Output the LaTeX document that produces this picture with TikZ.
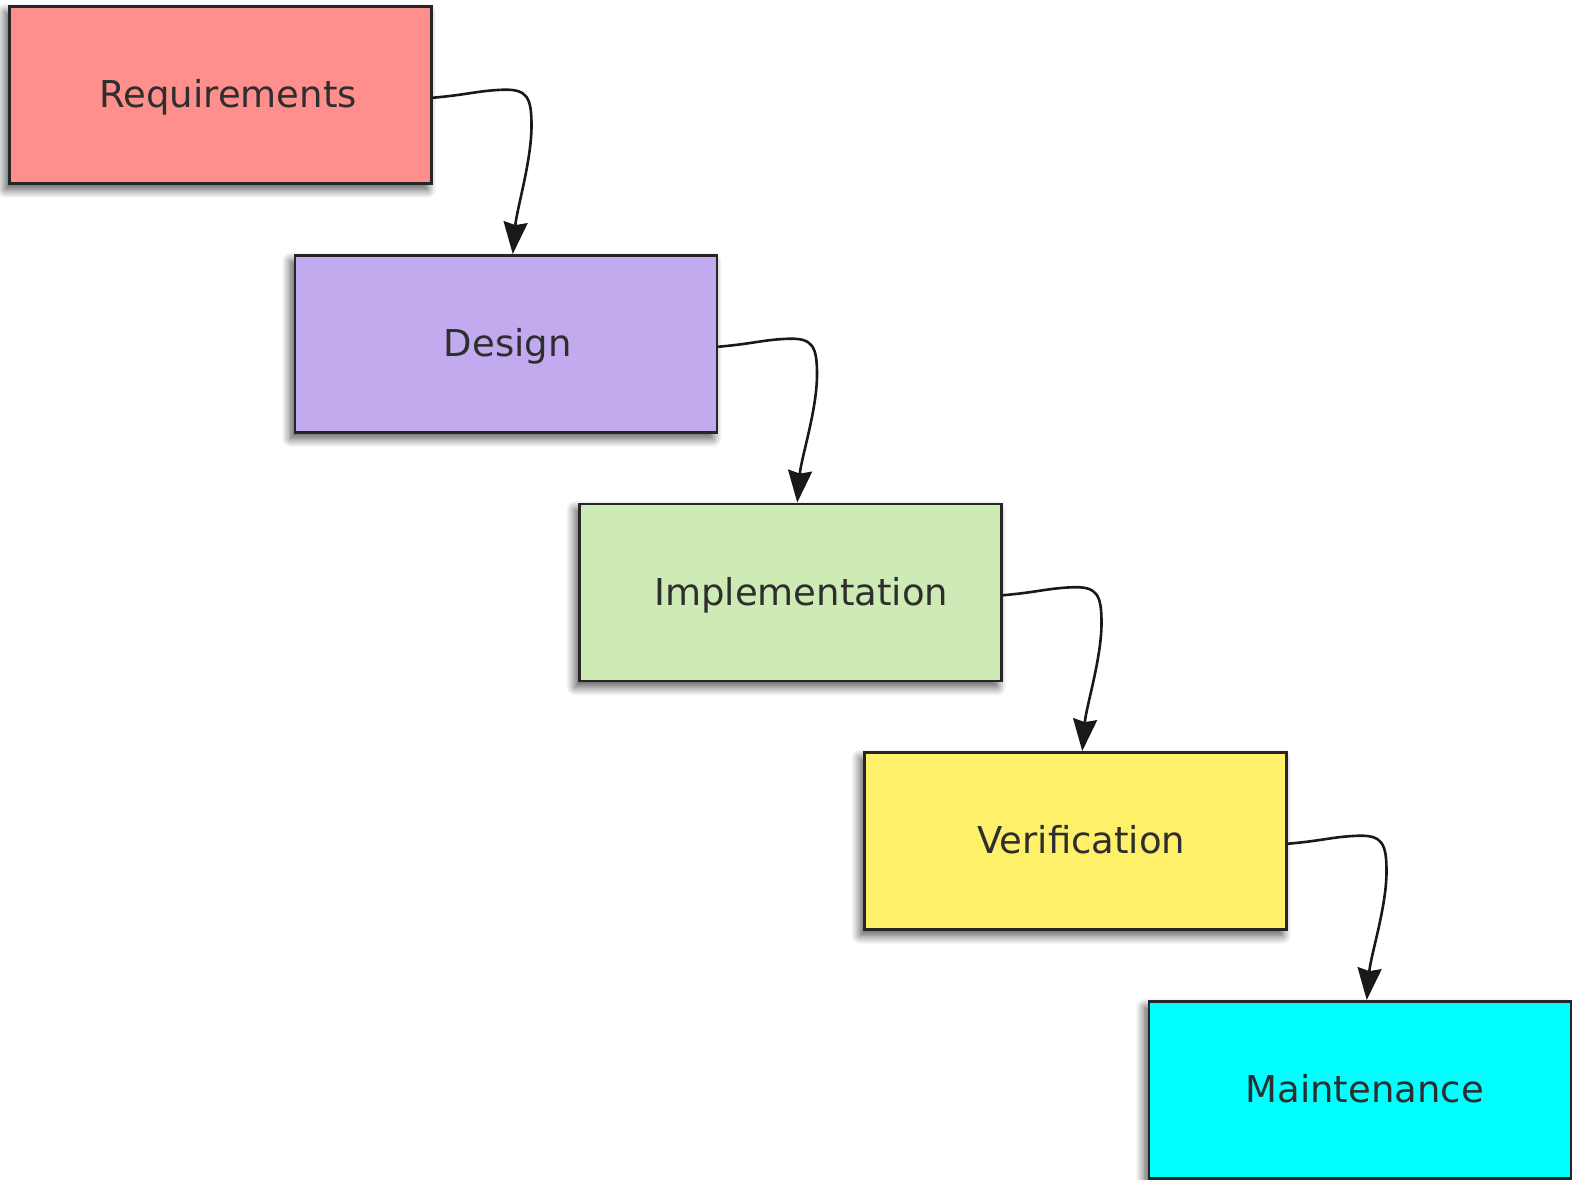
\documentclass[tikz,border=0pt]{standalone}
\usepackage{fontspec}
\setmainfont{DejaVu Sans}
\usetikzlibrary{arrows.meta,shadows.blur,calc}
\definecolor{creq}{HTML}{FF8F8C}
\definecolor{cdes}{HTML}{C1AAEE}
\definecolor{cimp}{HTML}{CFEBB5}
\definecolor{cver}{HTML}{FFF06A}
\definecolor{cmai}{HTML}{00FFFF}
\definecolor{cborder}{HTML}{262626}
\definecolor{ctext}{HTML}{2E2E2E}
\tikzset{
  phase/.style={draw=cborder, line width=2.5pt, minimum width=422pt, minimum height=177pt,
    inner sep=0pt, anchor=north west,
    blur shadow={shadow xshift=-4pt, shadow yshift=-6pt, shadow blur steps=14, shadow blur radius=9pt, shadow opacity=70}},
  lbl/.style={font=\fontsize{37}{40}\selectfont, text=ctext, anchor=base, inner sep=0pt},
  flow/.style={line width=2.6pt, draw=black!90, -{Stealth[length=32pt,width=24pt,inset=3pt]}}
}
\begin{document}
\begin{tikzpicture}[x=1pt,y=-1pt]
\useasboundingbox (0,0) rectangle (1572,1179);
\node[phase, fill=creq] (req) at (8,5) {};
\node[phase, fill=cdes] (des) at (293.5,254) {};
\node[phase, fill=cimp] (imp) at (578,502.5) {};
\node[phase, fill=cver] (ver) at (863,751) {};
\node[phase, fill=cmai] (mai) at (1147.5,1000) {};

\node[lbl] (reqt) at ($(req.center)+(8,13)$) {Requirements};
\node[lbl] (dest) at ($(des.center)+(2,13)$) {Design};
\node[lbl] (impt) at ($(imp.center)+(11,13)$) {Implementation};
\node[lbl] (vert) at ($(ver.center)+(6,13)$) {Verification};
\node[lbl] (mait) at ($(mai.center)+(5,13)$) {Maintenance};

\foreach \a/\b in {req/des, des/imp, imp/ver, ver/mai}{
  \draw[flow] ($(\a.east)+(0,3)$) .. controls +(35,-3) and +(-25,1) .. +(70,-8)
     .. controls +(25,-1) and +(0,-28) .. +(99,28)
     .. controls +(0,35) and +(4,-45) .. ($(\b.north)+(7,0)$);
}
\end{tikzpicture}
\end{document}
